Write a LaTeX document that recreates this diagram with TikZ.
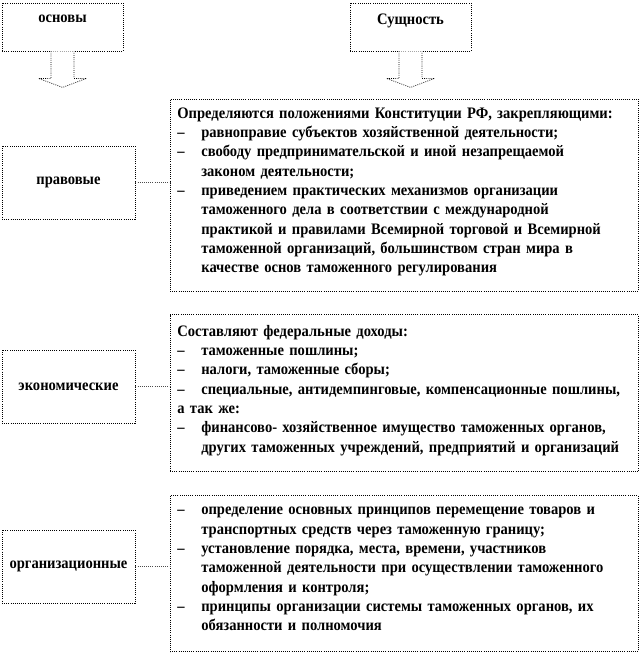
\documentclass[tikz,border=0pt]{standalone}
\usepackage{fontspec}
\setmainfont{Liberation Serif}[FakeStretch=0.91]
\usetikzlibrary{positioning,calc}

\newcommand{\dl}{\makebox[18pt][l]{–}}
\newcommand{\ind}{\hspace*{18pt}}
\newcommand{\tail}{\rule[-7pt]{0pt}{7pt}}

\begin{document}
\begin{tikzpicture}[x=0.75pt, y=-0.75pt,
  head/.style={rectangle, draw, densely dotted, line width=0.6pt, fill=white,
               minimum width=90.75pt, minimum height=36pt, text depth=12pt,
               font=\fontsize{12pt}{14.5pt}\selectfont\bfseries},
  tag/.style={rectangle, draw, densely dotted, line width=0.6pt, fill=white,
              minimum width=99.75pt, minimum height=54.75pt, inner xsep=0pt,
              font=\fontsize{12pt}{14.5pt}\selectfont\bfseries},
  card/.style={rectangle, draw, densely dotted, line width=0.6pt, fill=white,
               text width=340pt, inner xsep=5.5pt, align=left,
               font=\fontsize{12pt}{14.5pt}\selectfont\bfseries},
  link/.style={densely dotted, line width=0.6pt, black!70},
  blk/.style={densely dotted, line width=0.6pt, fill=white}
]
  \useasboundingbox (0,0) rectangle (642,654);

  \node[head] (osn) at (62.5,27) {основы};
  \node[head] (sush) at (410.5,27) {Сущность};

  \node[card, minimum height=144pt] (lawd) at (404,195) {%
    Определяются положениями Конституции РФ, закрепляющими:\\
    \dl равноправие субъектов хозяйственной деятельности;\\
    \dl свободу предпринимательской и иной незапрещаемой\\
    \ind законом деятельности;\\
    \dl приведением практических механизмов организации\\
    \ind таможенного дела в соответствии с международной\\
    \ind практикой и правилами Всемирной торговой и Всемирной\\
    \ind таможенной организаций, большинством стран мира в\\
    \ind качестве основ таможенного регулирования\tail};
  \node[card, minimum height=117.75pt, below=17.25pt of lawd] (econd) {%
    Составляют федеральные доходы:\\
    \dl таможенные пошлины;\\
    \dl налоги, таможенные сборы;\\
    \dl специальные, антидемпинговые, компенсационные пошлины,\\
    а так же:\\
    \dl финансово- хозяйственное имущество таможенных органов,\\
    \ind других таможенных учреждений, предприятий и организаций\tail};
  \node[card, minimum height=117pt, below=17.25pt of econd] (orgd) {%
    \dl определение основных принципов перемещение товаров и\\
    \ind транспортных средств через таможенную границу;\\
    \dl установление порядка, места, времени, участников\\
    \ind таможенной деятельности при осуществлении таможенного\\
    \ind оформления и контроля;\\
    \dl принципы организации системы таможенных органов, их\\
    \ind обязанности и полномочия\tail};

  \node[tag] (law) at (68.5,182.5) {правовые};
  \node[tag] (econ) at (68.5,386.5) {экономические};
  \node[tag] (org) at (68.5,566.5) {организационные};

  % left boxes to their contents
  \draw[link] (law) -- (law -| lawd.west);
  \draw[link] (econ) -- (econ -| econd.west);
  \draw[link] (org) -- (org -| orgd.west);

  % block arrows under the headers
  \foreach \b in {osn,sush}
    \draw[blk] ([xshift=-8.6pt]\b.south) -- ++(0,-20.25pt) -- ++(-9.4pt,0)
      -- ++(18pt,-6.75pt) -- ++(18pt,6.75pt) -- ++(-9.4pt,0) -- ++(0,20.25pt);
\end{tikzpicture}
\end{document}
